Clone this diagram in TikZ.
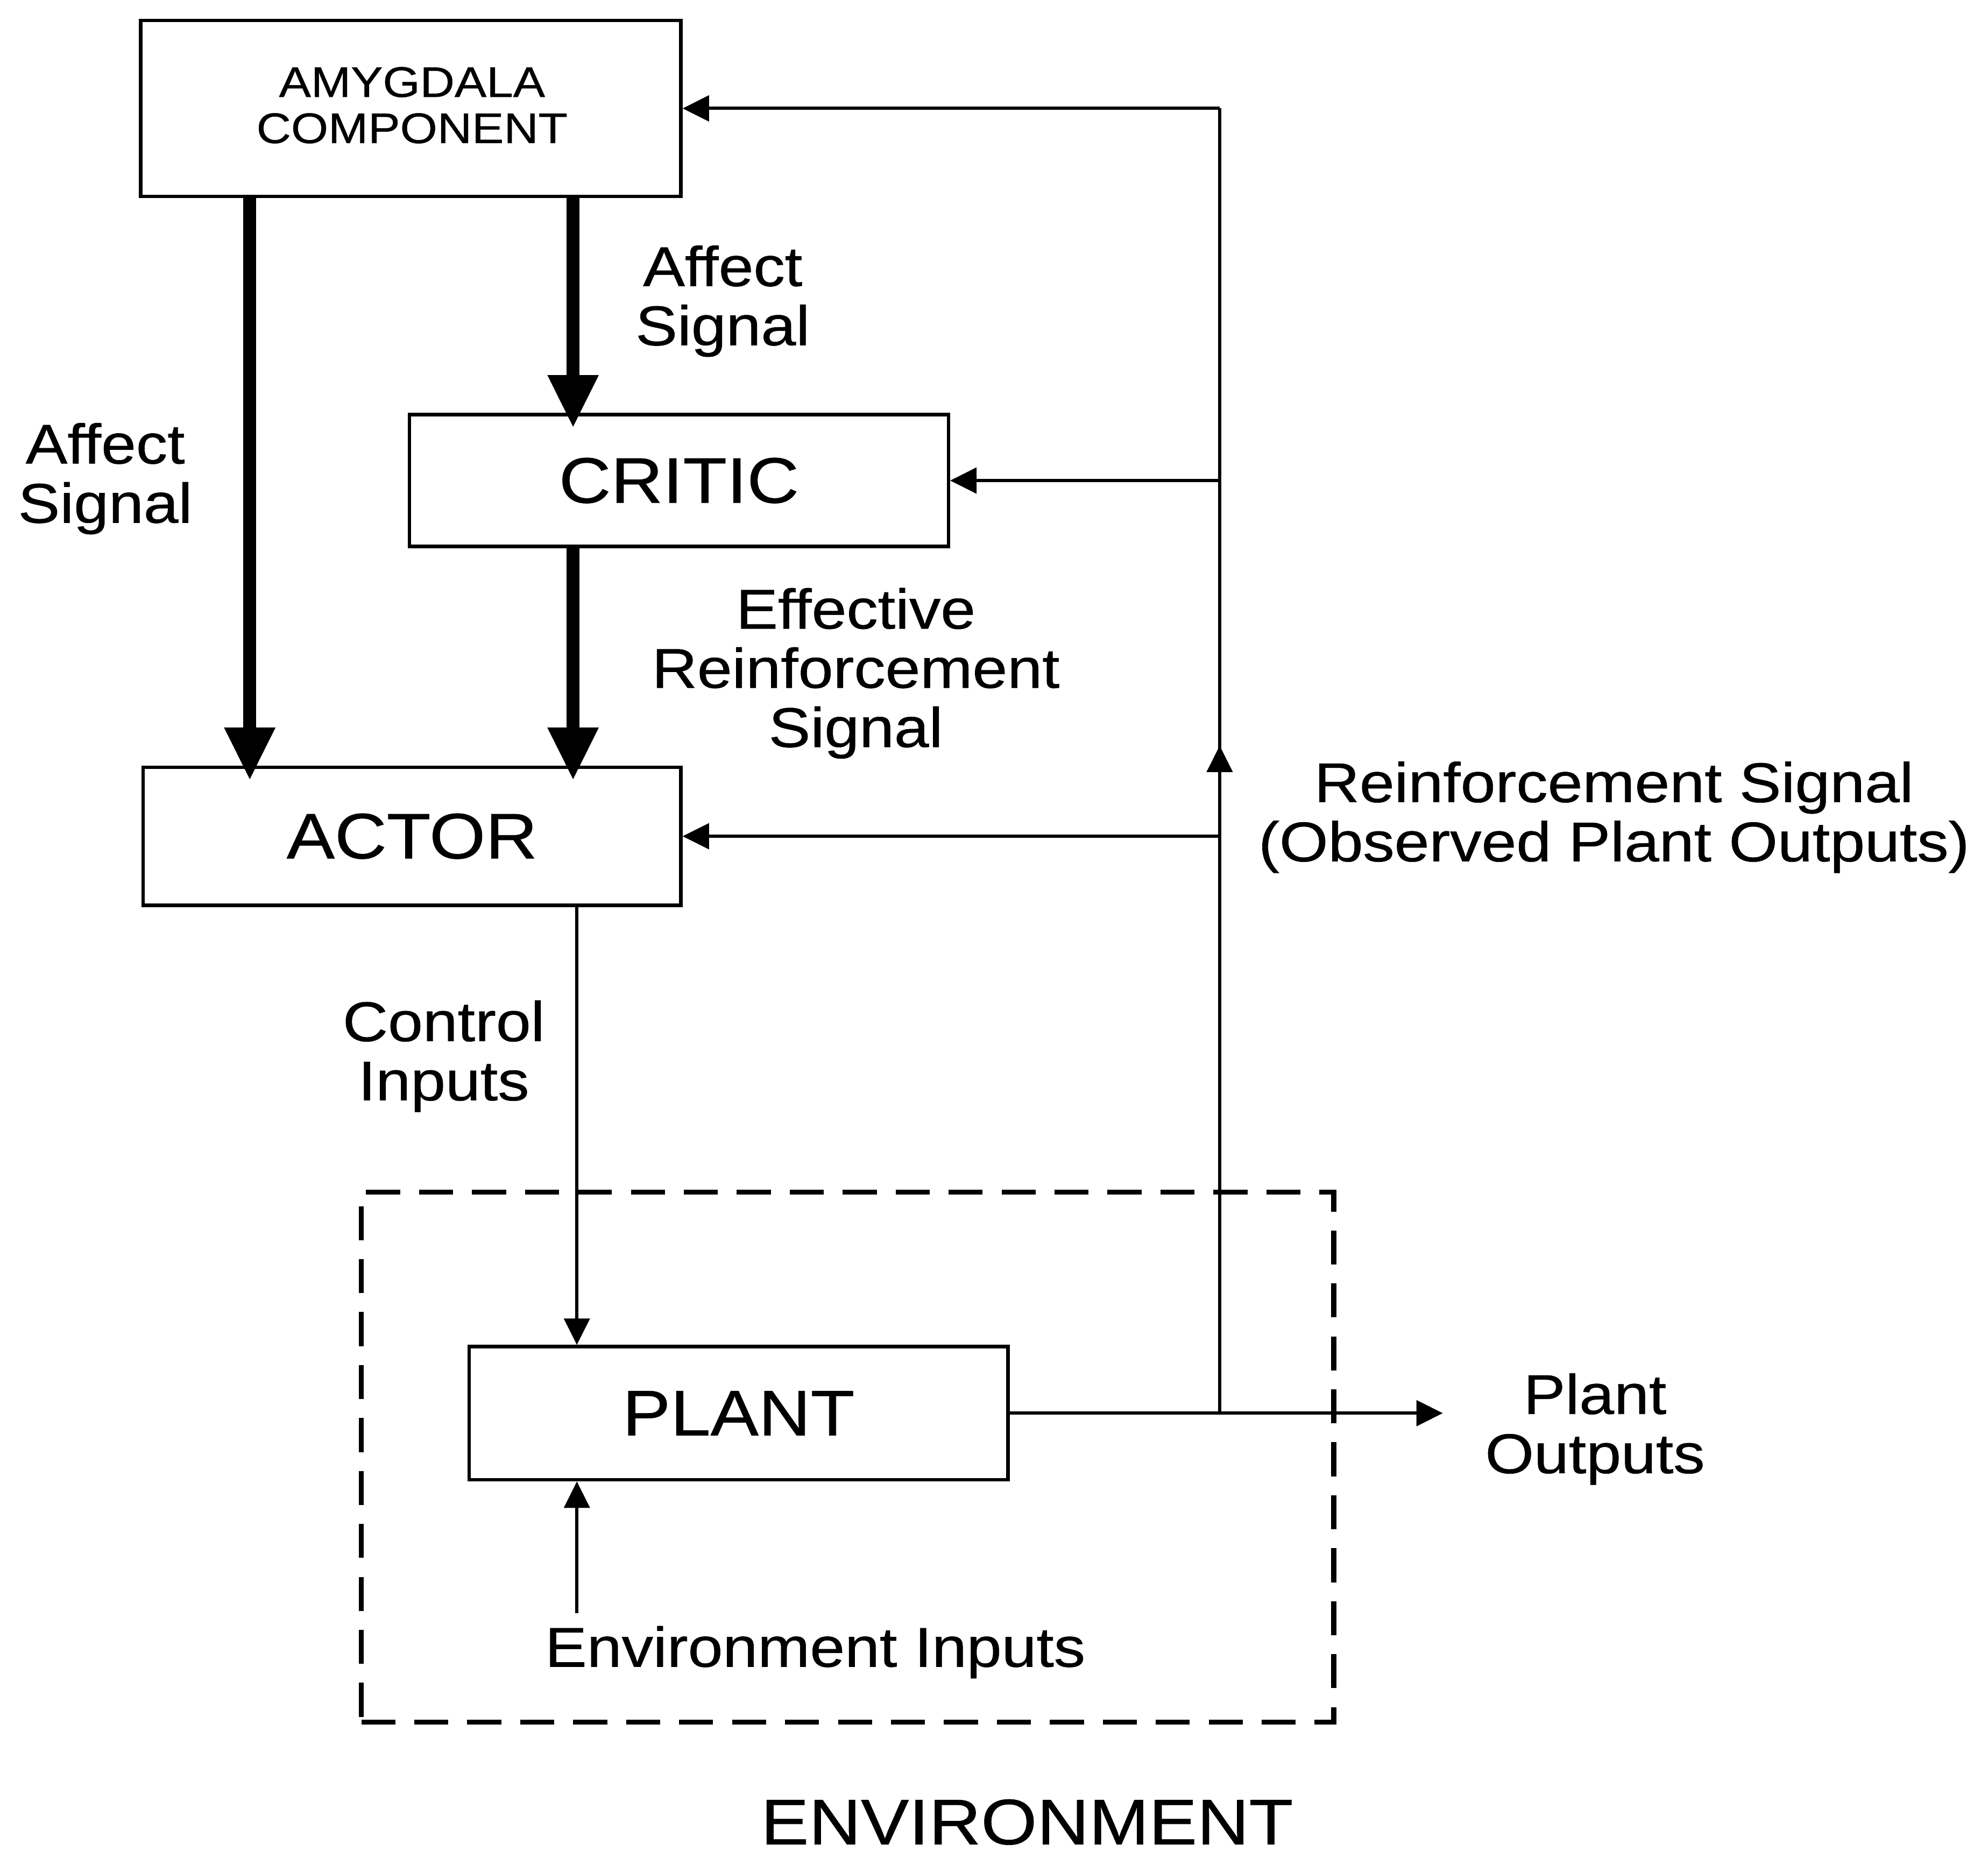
\documentclass[tikz,border=0pt]{standalone}
\usepackage{fontspec}
\setmainfont{Liberation Sans}[FakeStretch=1.12, FakeBold=0.6]
\usetikzlibrary{arrows.meta}
\def\px{0.023565cm}
\tikzset{
  block/.style={draw, line width=1.8pt, inner sep=0pt},
  blocktext/.style={font=\fontsize{34}{40}\selectfont},
  lbl/.style={inner sep=0pt, align=center, font=\fontsize{29.6}{31.3}\selectfont},
  thinline/.style={line width=1.7pt},
  thinarrow/.style={line width=1.7pt, -{Triangle[length=14pt,width=13.5pt]}},
  thickarrow/.style={line width=6.8pt, -{Triangle[length=28pt,width=25pt]}, shorten >=-8pt},
  envbox/.style={draw, line width=2.6pt, dash pattern=on 18pt off 10pt, inner sep=0pt},
}
\begin{document}
\begin{tikzpicture}[x=\px, y=-\px]
\useasboundingbox (0,0) rectangle (1568,1465);

% environment frame
\node[envbox, minimum width=767*\px, minimum height=418*\px] (env) at (668.5,1149) {};

% blocks
\node[block, minimum width=426*\px, minimum height=139*\px] (amyg) at (324,85.5) {};
\node[align=center, inner sep=0pt, font=\fontsize{22.6}{24.4}\selectfont] (amygtext) at (325,83) {AMYGDALA\\COMPONENT};
\node[block, blocktext, minimum width=425*\px, minimum height=104*\px] (critic) at (535.5,379) {CRITIC};
\node[block, blocktext, minimum width=424*\px, minimum height=109*\px] (actor) at (325,659.5) {ACTOR};
\node[block, blocktext, minimum width=425*\px, minimum height=105*\px] (plant) at (582.5,1114.5) {PLANT};

% helper points
\coordinate (colA) at (197,0);
\coordinate (colB) at (452,0);
\coordinate (colC) at (455,0);
\coordinate (bustop) at (962,85.5);
\coordinate (uptip) at (962,588);
\coordinate (pout) at (1138,1114.5);
\coordinate (envin) at (455,1272);
\coordinate (pjunc) at (plant.east -| bustop);

% affect and reinforcement paths
\draw[thickarrow] (amyg.south -| colA) -- (actor.north -| colA);
\draw[thickarrow] (amyg.south -| colB) -- (critic.north -| colB);
\draw[thickarrow] (critic.south -| colB) -- (actor.north -| colB);

% control and plant
\draw[thinarrow] (actor.south -| colC) -- (plant.north -| colC);
\draw[thinarrow] (envin) -- (plant.south -| envin);
\draw[thinarrow] (plant.east) -- (pout);

% feedback bus
\draw[thinline] (pjunc) -- (bustop);
\draw[thinarrow] (pjunc) -- (uptip);
\draw[thinarrow] (bustop) -- (amyg.east |- bustop);
\draw[thinarrow] (critic.east -| bustop) -- (critic.east);
\draw[thinarrow] (actor.east -| bustop) -- (actor.east);

% labels
\node[lbl] (lAffL) at (83,377.5) {Affect\\Signal};
\node[lbl] (lAffM) at (570,237.5) {Affect\\Signal};
\node[lbl] (lEff) at (675,531) {Effective\\Reinforcement\\Signal};
\node[lbl] (lRein) at (1273,644.5) {Reinforcement Signal\\(Observed Plant Outputs)};
\node[lbl] (lCtrl) at (350,833) {Control\\Inputs};
\node[lbl] (lPout) at (1258,1127) {Plant\\Outputs};
\node[lbl] (lEnvIn) at (643,1303) {Environment Inputs};
\node[inner sep=0pt, blocktext] (lEnv) at (810,1437) {ENVIRONMENT};
\end{tikzpicture}
\end{document}
